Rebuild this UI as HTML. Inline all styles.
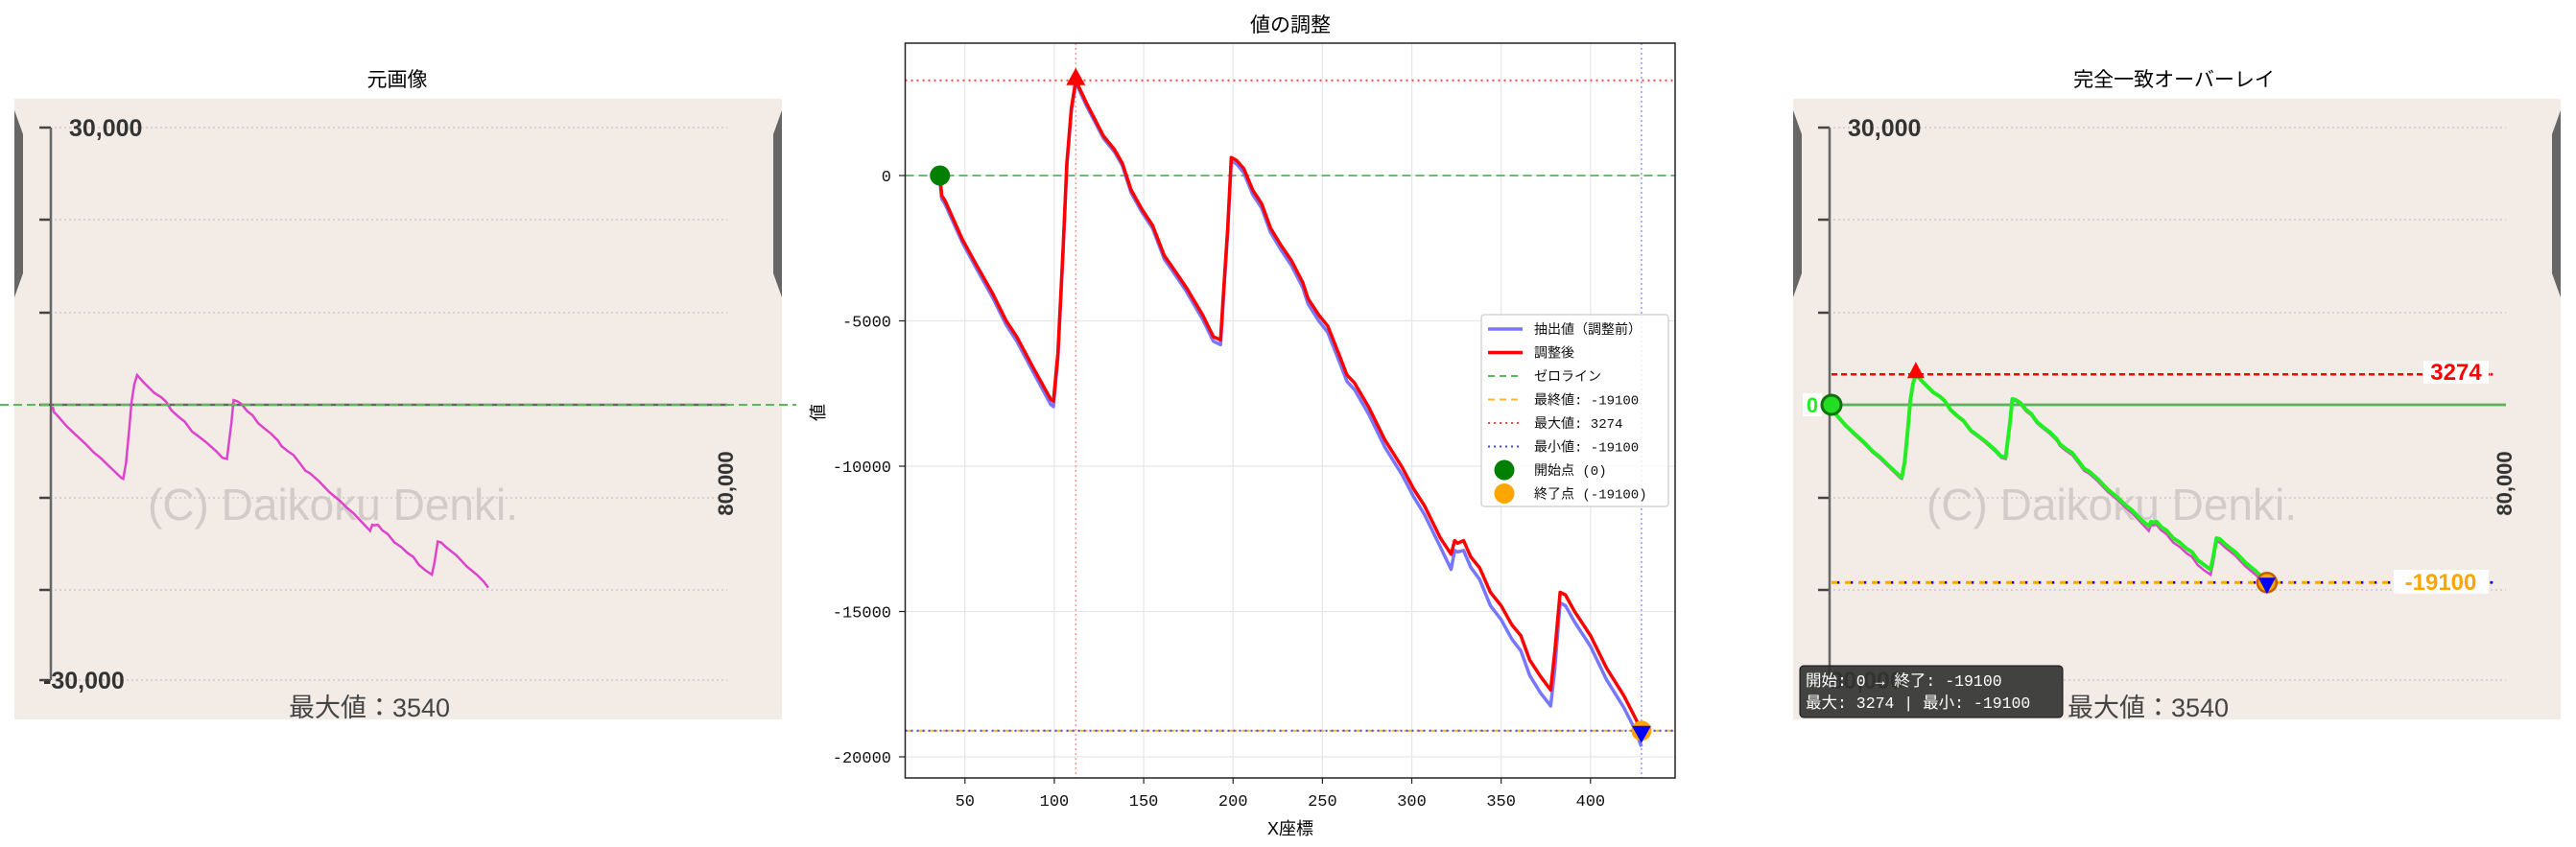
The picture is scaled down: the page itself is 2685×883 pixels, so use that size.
<!DOCTYPE html>
<html><head><meta charset="utf-8">
<style>
html,body{margin:0;padding:0;background:#fff;}
svg{display:block;}
text{font-family:"Liberation Sans","Noto Sans CJK JP",sans-serif;}
.mono{font-family:"Liberation Mono","Noto Sans CJK JP",monospace;}
</style></head>
<body>
<svg id="root" width="2685" height="883" viewBox="0 0 2685 883" xmlns="http://www.w3.org/2000/svg">
</svg>
<script>
// ---- data ----
const xs = [36,37,39,48.5,56,65.5,73,79,88.7,98,99.5,102,105,107,109.5,112,118,127.5,133.6,138,143,149,155,161.5,167.7,174,183,189,193,195,197,199,202,206,211,216,221,226.5,232.7,239,242,248,253,259,263.7,268,276,285,294.6,301,307,316,322,324,325.6,329,333,338,344,350,356,361,366,372,377.7,380,383,386,391,400,409,418.6,424.8,428.5];
const adjusted = [0,-690,-880,-2190,-3030,-4060,-4990,-5550,-6670,-7700,-7760,-6110,-2370,430,2300,3274,2490,1360,900,430,-500,-1160,-1720,-2750,-3300,-3870,-4800,-5550,-5650,-3680,-1810,620,520,240,-500,-970,-1810,-2370,-2930,-3680,-4240,-4800,-5180,-6110,-6860,-7140,-7980,-9100,-10040,-10780,-11350,-12470,-13030,-12560,-12650,-12560,-13120,-13500,-14340,-14800,-15460,-15830,-16670,-17230,-17700,-16390,-14340,-14430,-14990,-15830,-16950,-17890,-18630,-19100];
const raw = [-200,-800,-1000,-2300,-3150,-4200,-5130,-5700,-6820,-7880,-7950,-6300,-2500,300,2200,3200,2400,1280,820,350,-600,-1260,-1820,-2870,-3420,-4000,-4950,-5700,-5820,-3850,-1950,500,400,100,-650,-1120,-1960,-2520,-3100,-3850,-4420,-5000,-5400,-6330,-7080,-7370,-8220,-9350,-10300,-11050,-11650,-12780,-13550,-12900,-12950,-12900,-13480,-13900,-14800,-15280,-15950,-16350,-17200,-17800,-18250,-17000,-14700,-14800,-15350,-16200,-17350,-18300,-19050,-19650];
const xTicks = [50,100,150,200,250,300,350,400];
const yTicks = [0,-5000,-10000,-15000,-20000];
const startVal = 0, endVal = -19100, maxVal = 3274, minVal = -19100;
const maxX = 112, endX = 428.5, startX = 36;

const NS = "http://www.w3.org/2000/svg";
const root = document.getElementById('root');
function el(tag, attrs, parent, txt){
  const e = document.createElementNS(NS, tag);
  for (const k in attrs) e.setAttribute(k, attrs[k]);
  if (txt !== undefined) e.textContent = txt;
  (parent||root).appendChild(e);
  return e;
}
// middle axes
const X = x => 1005.8 + (x-50)*1.8629;
const Y = v => 183 - v*0.0303;
// image axes (left panel); right panel is shifted
const IX = x => 55 + (x-36)*1.1564;
const IY = v => 422 - v*0.0097;
const SHIFT = 1854;

// ================= LEFT PANEL & RIGHT PANEL BACKGROUND IMAGE =================
function drawImage(dx, name){
  const g = el('g', {}, root);
  
  
  const bg = el('rect', {x:15+dx, y:103, width:800, height:647, fill:'#f2ebe6'}, g);
  
  
  // tabs
  const tl = el('path', {d:`M${15+dx},115 L${24+dx},140 L${24+dx},285 L${15+dx},310 Z`, fill:'#666'}, g);
  
  
  const tr = el('path', {d:`M${815+dx},115 L${806+dx},140 L${806+dx},285 L${815+dx},310 Z`, fill:'#666'}, g);
  
  
  // gridlines
  [133,229,326,422,519,615,709].forEach(y=>{
    const gl = el('line', {x1:57+dx, x2:758+dx, y1:y, y2:y, stroke:'#cfcac6', 'stroke-width':1.5, 'stroke-dasharray':'2 3'}, g);
    
    
    const tk = el('line', {x1:41+dx, x2:53+dx, y1:y, y2:y, stroke:'#444', 'stroke-width':2.5}, g);
    
    
  });
  const ax = el('line', {x1:53+dx, x2:53+dx, y1:133, y2:709, stroke:'#666', 'stroke-width':2.5}, g);
  
  
  const zl = el('line', {x1:53+dx, x2:758+dx, y1:422, y2:422, stroke:'#666', 'stroke-width':2.5}, g);
  
  
  const t1 = el('text', {x:72+dx, y:142, 'font-size':25, 'font-weight':'bold', fill:'#333'}, g, '30,000');
  
  
  const t2 = el('text', {x:45+dx, y:718, 'font-size':25, 'font-weight':'bold', fill:'#333'}, g, '-30,000');
  
  
  const wm = el('text', {x:154+dx, y:542, 'font-size':46, fill:'#d2ccc8'}, g, '(C) Daikoku Denki.');
  
  
  const r8 = el('text', {x:0, y:0, 'font-size':22, 'font-weight':'bold', fill:'#333', transform:`translate(${764+dx},504) rotate(-90)`, 'text-anchor':'middle'}, g, '80,000');
  
  
  const mx = el('text', {x:385+dx, y:747, 'font-size':27, fill:'#444', 'text-anchor':'middle'}, g, '最大値：3540');
  
  
  return g;
}
function pts(fx, fy, arrX, arrY, dx){ return arrX.map((x,i)=>`${fx(x)+dx},${fy(arrY[i])}`).join(' '); }

// Left panel
const lt = el('text', {x:414, y:90, 'font-size':21, 'text-anchor':'middle', fill:'#000'}, root, '元画像');


const leftG = drawImage(0, 'original-image');
const lm = el('polyline', {points: pts(IX, IY, xs, raw, 0), fill:'none', stroke:'#dd44cc', 'stroke-width':2.5}, leftG);


const lz = el('line', {x1:0, x2:830, y1:422, y2:422, stroke:'#5cb85c', 'stroke-width':2, 'stroke-dasharray':'9 5'});



// ================= MIDDLE CHART =================
const mt = el('text', {x:1345, y:33, 'font-size':21, 'text-anchor':'middle', fill:'#000'}, root, '値の調整');


const plot = el('rect', {x:943.5, y:45, width:802.5, height:766, fill:'#fff'});


xTicks.forEach(t=>{
  const g = el('line', {x1:X(t), x2:X(t), y1:45, y2:811, stroke:'#e6e6e6', 'stroke-width':1.2});
  
  
  const tk = el('line', {x1:X(t), x2:X(t), y1:811, y2:817, stroke:'#222', 'stroke-width':1.2});
  
  
  const lb = el('text', {x:X(t), y:840, 'font-size':17, 'text-anchor':'middle', class:'mono', fill:'#111'}, root, String(t));
  
  
});
yTicks.forEach(t=>{
  const g = el('line', {x1:943.5, x2:1746, y1:Y(t), y2:Y(t), stroke:'#e6e6e6', 'stroke-width':1.2});
  
  
  const tk = el('line', {x1:937, x2:943.5, y1:Y(t), y2:Y(t), stroke:'#222', 'stroke-width':1.2});
  
  
  const lb = el('text', {x:929, y:Y(t)+6, 'font-size':17, 'text-anchor':'end', class:'mono', fill:'#111'}, root, String(t));
  
  
});
// reference lines
const clip = el('clipPath', {id:'pc'});
el('rect', {x:943.5, y:45, width:802.5, height:766}, clip);
const refs = el('g', {'clip-path':'url(#pc)'});


let r;
r = el('line', {x1:X(maxX), x2:X(maxX), y1:45, y2:811, stroke:'#ff8888', 'stroke-width':1.6, 'stroke-dasharray':'2 3', opacity:0.8}, refs);
 
r = el('line', {x1:X(endX), x2:X(endX), y1:45, y2:811, stroke:'#8888ff', 'stroke-width':1.6, 'stroke-dasharray':'2 3', opacity:0.8}, refs);
 
r = el('line', {x1:943.5, x2:1746, y1:Y(0), y2:Y(0), stroke:'#5cb85c', 'stroke-width':2, 'stroke-dasharray':'9 5', opacity:0.9}, refs);
 
r = el('line', {x1:943.5, x2:1746, y1:Y(maxVal), y2:Y(maxVal), stroke:'#ff4444', 'stroke-width':2, 'stroke-dasharray':'2 4'}, refs);
 
r = el('line', {x1:943.5, x2:1746, y1:Y(endVal), y2:Y(endVal), stroke:'#ffb733', 'stroke-width':2, 'stroke-dasharray':'8 5'}, refs);
 
r = el('line', {x1:943.5, x2:1746, y1:Y(minVal), y2:Y(minVal), stroke:'#4444ff', 'stroke-width':2, 'stroke-dasharray':'2 4'}, refs);
 
// series
const rawLine = el('polyline', {points: pts(X, Y, xs, raw, 0), fill:'none', stroke:'#7777ff', 'stroke-width':3.5, 'stroke-linejoin':'round'});


const adjLine = el('polyline', {points: pts(X, Y, xs, adjusted, 0), fill:'none', stroke:'#ff0000', 'stroke-width':3.5, 'stroke-linejoin':'round'});


// markers
let m;
m = el('circle', {cx:X(startX), cy:Y(startVal), r:10.5, fill:'#008000'});
 
m = el('circle', {cx:X(endX), cy:Y(endVal), r:10.5, fill:'#ffa500'});
 
m = el('path', {d:`M${X(maxX)},${Y(maxVal)-13} L${X(maxX)+10},${Y(maxVal)+5} L${X(maxX)-10},${Y(maxVal)+5} Z`, fill:'#ff0000'});
 
m = el('path', {d:`M${X(endX)},${Y(minVal)+13} L${X(endX)+10},${Y(minVal)-5} L${X(endX)-10},${Y(minVal)-5} Z`, fill:'#0000ff'});
 
const frame = el('rect', {x:943.5, y:45, width:802.5, height:766, fill:'none', stroke:'#222', 'stroke-width':1.5});


const xl = el('text', {x:1345, y:870, 'font-size':18, 'text-anchor':'middle'}, root, 'X座標');
 
const yl = el('text', {x:0, y:0, 'font-size':18, 'text-anchor':'middle', transform:'translate(859,430) rotate(-90)'}, root, '値');
 
// legend
const leg = el('g', {});


el('rect', {x:1544, y:328, width:195, height:200, rx:3, fill:'#fff', 'fill-opacity':0.85, stroke:'#ccc', 'stroke-width':1.2}, leg);
const legItems = [
  {t:'抽出値（調整前）', k:'line', c:'#7777ff', d:null, w:3.5},
  {t:'調整後', k:'line', c:'#ff0000', d:null, w:3.5},
  {t:'ゼロライン', k:'line', c:'#5cb85c', d:'7 5', w:2},
  {t:'最終値: -19100', k:'line', c:'#ffb733', d:'7 5', w:2},
  {t:'最大値: 3274', k:'line', c:'#ff4444', d:'2 4', w:2},
  {t:'最小値: -19100', k:'line', c:'#4444ff', d:'2 4', w:2},
  {t:'開始点 (0)', k:'dot', c:'#008000'},
  {t:'終了点 (-19100)', k:'dot', c:'#ffa500'}
];
legItems.forEach((it,i)=>{
  const y = 343 + i*24.5;
  const g = el('g', {}, leg);
  
  
  if (it.k==='line'){
    const a = {x1:1551, x2:1587, y1:y, y2:y, stroke:it.c, 'stroke-width':it.w};
    if (it.d) a['stroke-dasharray']=it.d;
    el('line', a, g);
  } else {
    el('circle', {cx:1568, cy:y, r:10.5, fill:it.c}, g);
  }
  el('text', {x:1599, y:y+5, 'font-size':14, class:'mono', fill:'#111'}, g, it.t);
});

// ================= RIGHT PANEL =================
const rt = el('text', {x:2266, y:90, 'font-size':21, 'text-anchor':'middle', fill:'#000'}, root, '完全一致オーバーレイ');


const rightG = drawImage(SHIFT, 'overlay-image');
const rz = el('line', {x1:IX(startX)+SHIFT, x2:758+SHIFT, y1:IY(0), y2:IY(0), stroke:'#55c455', 'stroke-width':2.5, opacity:0.85}, rightG);
 
const rmag = el('polyline', {points: pts(IX, IY, xs, raw, SHIFT), fill:'none', stroke:'#dd44cc', 'stroke-width':2.5}, rightG);
 
const rmax = el('line', {x1:IX(startX)+SHIFT, x2:2596, y1:IY(maxVal), y2:IY(maxVal), stroke:'#ff0000', 'stroke-width':2.5, 'stroke-dasharray':'6 4'}, rightG);
 
const rfin = el('line', {x1:IX(startX)+SHIFT, x2:2596, y1:IY(endVal), y2:IY(endVal), stroke:'#ffa500', 'stroke-width':3, 'stroke-dasharray':'9 5'}, rightG);
 
const rmin = el('line', {x1:IX(startX)+SHIFT+6, x2:2596, y1:IY(minVal), y2:IY(minVal), stroke:'#0000ff', 'stroke-width':2.5, 'stroke-dasharray':'2 12'}, rightG);
 
const rgreen = el('polyline', {points: pts(IX, IY, xs, adjusted, SHIFT), fill:'none', stroke:'#22ee22', 'stroke-width':4, 'stroke-linejoin':'round'}, rightG);
 
// labels
let lbg;
lbg = el('rect', {x:2526, y:376, width:68, height:24, fill:'#fff'}, rightG);
 
lbg = el('text', {x:2560, y:396, 'font-size':24, 'font-weight':'bold', fill:'#ff0000', 'text-anchor':'middle'}, rightG, String(maxVal));
 
lbg = el('rect', {x:2495, y:594, width:99, height:25, fill:'#fff'}, rightG);
 
lbg = el('text', {x:2544, y:615, 'font-size':24, 'font-weight':'bold', fill:'#ffa500', 'text-anchor':'middle'}, rightG, '-' + String(Math.abs(endVal)));
 
el('circle', {cx:2597, cy:IY(maxVal), r:1.5, fill:'#ff0000'}, rightG);
el('circle', {cx:2597, cy:IY(endVal), r:1.5, fill:'#0000ff'}, rightG);
lbg = el('rect', {x:1879, y:410, width:20, height:24, fill:'#fff'}, rightG);
 
lbg = el('text', {x:1889, y:430, 'font-size':22, 'font-weight':'bold', fill:'#22ee22', 'text-anchor':'middle'}, rightG, String(startVal));
 
// markers
m = el('circle', {cx:IX(startX)+SHIFT, cy:IY(startVal), r:10, fill:'#22dd22', stroke:'#107010', 'stroke-width':3}, rightG);
 
m = el('path', {d:`M${IX(maxX)+SHIFT},${IY(maxVal)-13} L${IX(maxX)+SHIFT+9},${IY(maxVal)+4} L${IX(maxX)+SHIFT-9},${IY(maxVal)+4} Z`, fill:'#ff0000'}, rightG);
 
m = el('circle', {cx:IX(endX)+SHIFT, cy:IY(endVal), r:10, fill:'#ffa500', stroke:'#c06000', 'stroke-width':2.5}, rightG);
 
m = el('path', {d:`M${IX(endX)+SHIFT},${IY(minVal)+12} L${IX(endX)+SHIFT+9},${IY(minVal)-5} L${IX(endX)+SHIFT-9},${IY(minVal)-5} Z`, fill:'#0000ff'}, rightG);
 
// info box
const info = el('g', {}, root);


el('rect', {x:1876, y:694, width:274, height:54, rx:4, fill:'#333', 'fill-opacity':0.92, stroke:'#111', 'stroke-width':1}, info);
el('text', {x:1882, y:715, 'font-size':16.5, class:'mono', fill:'#fff'}, info, '開始: 0 → 終了: -19100');
el('text', {x:1882, y:738, 'font-size':16.5, class:'mono', fill:'#fff'}, info, '最大: 3274 | 最小: -19100');
</script>
</body></html>
